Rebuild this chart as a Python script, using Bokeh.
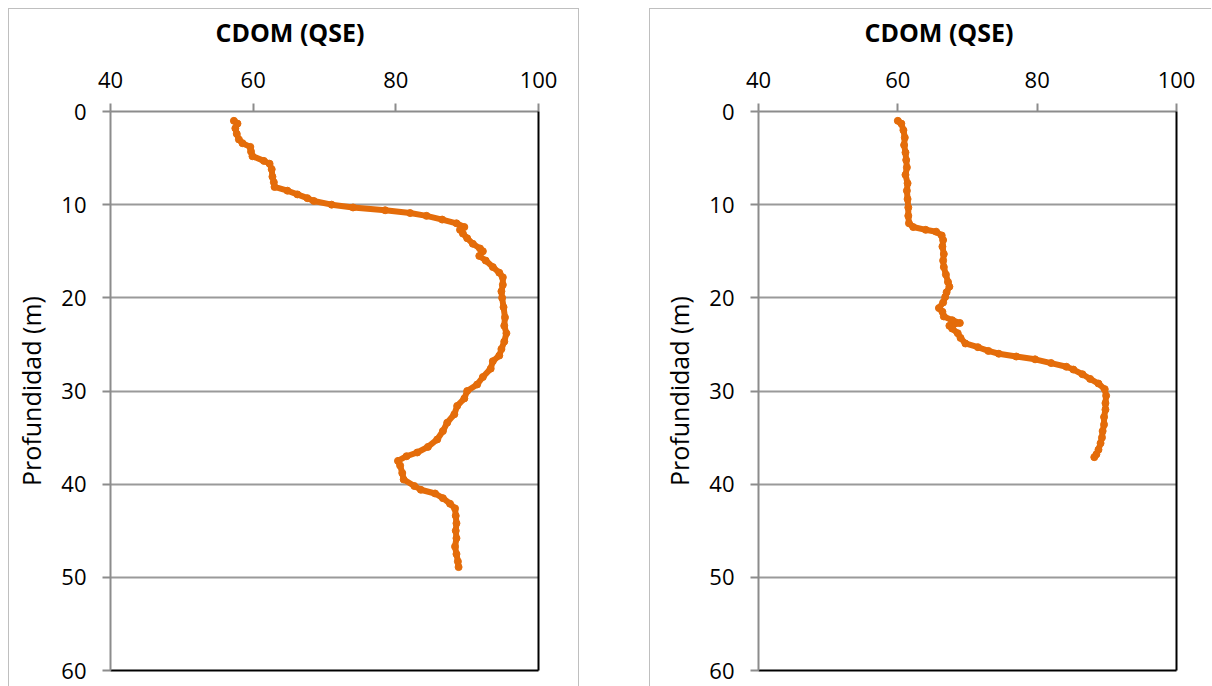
from bokeh.plotting import figure
from bokeh.layouts import row
from bokeh.models import Range1d, FixedTicker, LinearAxis
from bokeh.embed import file_html
from bokeh.resources import INLINE

# ---- data ----
left_depth = [1.0, 1.3, 1.8, 2.4, 3.0, 3.4, 3.8, 4.3, 4.8, 5.3, 5.6, 6.2, 7.0, 7.6, 8.1, 8.5, 8.9, 9.3, 9.6,
              10.0, 10.3, 10.6, 10.9, 11.2, 11.6, 12.0, 12.4, 12.7, 13.1, 13.6, 14.2, 14.7, 15.0, 15.5, 16.0,
              16.7, 17.3, 17.8, 18.6, 19.3, 20.0, 21.0, 22.1, 23.0, 23.8, 24.7, 25.5, 26.2, 26.8, 27.6, 28.5,
              29.3, 30.0, 30.8, 31.6, 32.5, 33.4, 34.3, 35.2, 36.0, 36.6, 37.0, 37.5, 38.0, 38.8, 39.5, 40.2,
              40.6, 41.0, 41.5, 42.1, 42.6, 43.4, 44.2, 45.0, 45.8, 46.7, 47.5, 48.3, 48.9]
left_cdom = [57.3, 57.8, 57.5, 57.7, 58.0, 58.5, 59.6, 59.7, 59.9, 61.5, 62.3, 62.6, 62.7, 62.9, 63.0, 64.8, 66.2,
             67.6, 68.5, 71.0, 74.0, 78.5, 82.0, 84.3, 86.5, 88.5, 89.6, 89.0, 89.4, 90.0, 90.8, 91.8, 92.2, 91.7,
             92.6, 93.6, 94.5, 95.0, 95.0, 94.8, 94.9, 95.1, 95.3, 95.2, 95.5, 95.2, 94.8, 94.5, 93.6, 93.3, 92.2,
             91.4, 90.0, 89.6, 88.6, 88.2, 87.2, 86.6, 85.8, 84.5, 83.0, 81.5, 80.3, 80.6, 80.9, 81.1, 82.6, 83.5,
             85.5, 86.6, 87.6, 88.3, 88.4, 88.5, 88.4, 88.5, 88.3, 88.5, 88.7, 88.8]

right_depth = [1.0, 1.3, 2.0, 2.8, 3.6, 4.4, 5.2, 6.0, 6.8, 7.7, 8.5, 9.4, 10.3, 11.2, 12.0, 12.4, 12.7, 12.9,
               13.3, 13.8, 14.5, 15.3, 16.0, 16.7, 17.5, 18.3, 18.8, 19.4, 19.9, 20.5, 21.1, 21.5, 22.0, 22.4,
               22.7, 23.0, 23.3, 23.8, 24.3, 24.9, 25.3, 25.7, 26.0, 26.3, 26.6, 27.0, 27.4, 27.7, 28.2, 28.7,
               29.2, 29.8, 30.5, 31.3, 32.0, 32.8, 33.6, 34.3, 35.0, 35.6, 36.3, 36.8, 37.1]
right_cdom = [60.0, 60.5, 60.8, 61.0, 60.9, 61.1, 61.2, 61.3, 61.1, 61.4, 61.3, 61.4, 61.5, 61.5, 61.6, 62.2,
              64.0, 65.5, 66.3, 66.5, 66.4, 66.6, 66.5, 66.6, 66.9, 67.2, 67.4, 67.0, 66.8, 66.5, 65.9, 66.4,
              66.6, 67.8, 68.9, 67.4, 67.8, 68.6, 69.0, 69.7, 71.5, 73.0, 74.5, 77.0, 79.7, 82.0, 84.2, 85.2,
              86.5, 87.6, 88.8, 89.7, 89.9, 89.8, 89.8, 89.6, 89.6, 89.4, 89.3, 89.1, 88.8, 88.5, 88.2]

x_ticks = [40, 60, 80, 100]
y_ticks = [0, 10, 20, 30, 40, 50, 60]
title_text = "CDOM (QSE)"
ylabel_text = "Profundidad (m)"

ORANGE = "#E46C0A"
FONT = "Open Sans"
BORDER = "#BFBFBF"


def make_panel(depth, cdom, width, mb_left, mb_right, title_offset, margin, border_right):
    p = figure(width=width, height=694, output_backend="svg", toolbar_location=None,
               x_range=Range1d(40, 100), y_range=Range1d(60, 0),
               x_axis_location="above", min_border_left=mb_left, min_border_right=mb_right,
               min_border_top=118, min_border_bottom=16, title=title_text)
    p.margin = margin
    g = "linear-gradient(%s, %s)" % (BORDER, BORDER)
    imgs = [g, g]
    sizes = ["100% 1px", "1px 100%"]
    poss = ["0 16px", "0 16px"]
    if border_right:
        imgs.append(g)
        sizes.append("1px 100%")
        poss.append("100% 16px")
    p.styles = {"background-color": "white",
                "background-image": ", ".join(imgs),
                "background-size": ", ".join(sizes),
                "background-position": ", ".join(poss),
                "background-repeat": "no-repeat"}
    p.outline_line_color = None
    p.background_fill_color = "white"
    p.border_fill_color = None

    p.title.text_font = FONT
    p.title.text_font_size = "25px"
    p.title.text_font_style = "bold"
    p.title.text_color = "black"
    p.title.align = "left"
    p.title.offset = title_offset
    p.title.standoff = 40

    xa = p.xaxis[0]
    xa.ticker = FixedTicker(ticks=x_ticks)
    ya = p.yaxis[0]
    ya.ticker = FixedTicker(ticks=y_ticks)
    ya.axis_label = ylabel_text
    ya.axis_label_text_font = FONT
    ya.axis_label_text_font_size = "25px"
    ya.axis_label_text_font_style = "normal"
    ya.axis_label_text_color = "black"
    ya.axis_label_standoff = 10
    for ax in (xa, ya):
        ax.major_label_text_font = FONT
        ax.major_label_text_font_size = "22px"
        ax.major_label_text_color = "black"
        ax.axis_line_color = "#8C8C8C"
        ax.axis_line_width = 2
        ax.major_tick_line_color = "#8C8C8C"
        ax.major_tick_line_width = 2
        ax.major_tick_out = 8
        ax.major_tick_in = 0
        ax.minor_tick_line_color = None
        ax.major_label_standoff = 16

    p.xgrid.grid_line_color = None
    p.ygrid.ticker = FixedTicker(ticks=y_ticks)
    p.ygrid.grid_line_color = "#9A9A9A"
    p.ygrid.grid_line_width = 2

    for loc in ("right", "below"):
        a = LinearAxis(ticker=FixedTicker(ticks=[]), axis_line_color="black", axis_line_width=2,
                       major_tick_line_color=None, minor_tick_line_color=None,
                       major_label_text_font_size="0px")
        p.add_layout(a, loc)

    p.line(cdom, depth, line_color=ORANGE, line_width=6, line_join="round", line_cap="round")
    p.scatter(cdom, depth, size=7, fill_color=ORANGE, line_color=ORANGE)
    return p


p1 = make_panel(left_depth, left_cdom, 571, 102, 41, 105, (-8, 0, 0, 8), True)
p2 = make_panel(right_depth, right_cdom, 562, 109, 35, 106, (-8, 0, 0, 70), False)
p = row(p1, p2)
p.margin = 0

open("out.html", "w").write(file_html(p, INLINE))
